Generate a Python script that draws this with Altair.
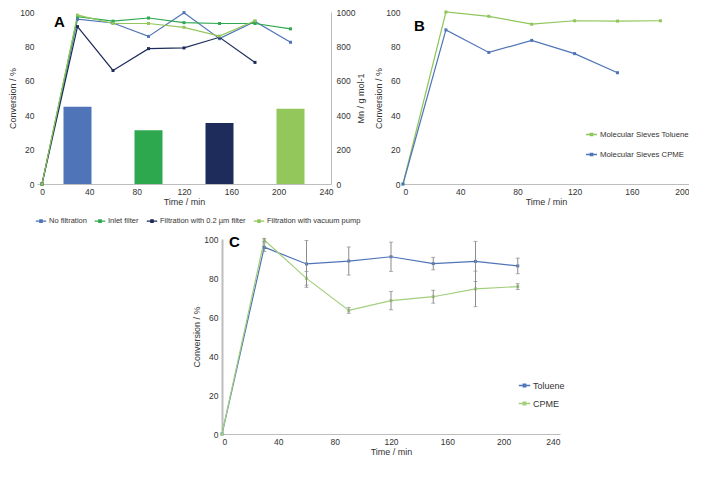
import altair as alt
import pandas as pd

FONT = "Liberation Sans"
TXT = "#333333"

# ---------------- Panel A data ----------------
a_series = ["No filtration", "Inlet filter", "Filtration with 0.2 µm filter", "Filtration with vacuum pump"]
a_colors = ["#4f74b8", "#2ea84f", "#1d2c5b", "#93c65b"]
a_time_full = [0, 30, 60, 90, 120, 150, 180, 210]
a_time_short = [0, 30, 60, 90, 120, 150, 180]
a_no = [0, 95.8, 93.6, 85.8, 99.6, 84.5, 94.5, 82.4]
a_inlet = [0, 97.3, 94.7, 96.5, 93.8, 93.3, 93.3, 90.2]
a_02 = [0, 91.5, 66.0, 78.7, 79.1, 85.3, 70.7]
a_vac = [0, 98.2, 93.3, 93.3, 91.1, 86.0, 94.9]
bar_time = [30, 90, 150, 210]
bar_mn = [449, 313, 355, 438]

# ---------------- Panel B data ----------------
b_series = ["Molecular Sieves Toluene", "Molecular Sieves CPME"]
b_colors = ["#8fc65a", "#4f74b8"]
b_time_tol = [0, 30, 60, 90, 120, 150, 180]
b_tol = [0, 100, 97.5, 92.9, 94.9, 94.7, 94.9]
b_time_cpme = [0, 30, 60, 90, 120, 150]
b_cpme = [0, 89.6, 76.5, 83.5, 75.8, 64.7]

# ---------------- Panel C data ----------------
c_series = ["Toluene", "CPME"]
c_colors = ["#4f74b8", "#a2cf7c"]
c_time = [0, 30, 60, 90, 120, 150, 180, 210]
c_tol = [0, 95.8, 87.2, 88.7, 90.9, 87.4, 88.5, 86.2]
c_tol_err = [0, 2.2, 12.0, 7.2, 7.5, 3.2, 10.3, 4.0]
c_cpme = [0, 99.5, 79.8, 63.4, 68.4, 70.4, 74.4, 75.6]
c_cpme_err = [0, 0.8, 3.5, 1.5, 4.7, 3.3, 9.1, 1.5]


def long_df(pairs):
    rows = []
    for name, ts, vs in pairs:
        for i, (t, v) in enumerate(zip(ts, vs)):
            rows.append({"time": t, "conv": v, "series": name, "idx": i})
    return pd.DataFrame(rows)


LEG_PATH = "M-1,0L1,0M-0.22,-0.22L0.22,-0.22L0.22,0.22L-0.22,0.22Z"
POINT = alt.OverlayMarkDef(shape="square", size=9, filled=True)


def letter(ch, x, y):
    return alt.Chart(pd.DataFrame({"t": [ch]})).mark_text(
        font=FONT, fontSize=15, fontWeight="bold", color="black", align="left", baseline="middle"
    ).encode(text="t:N", x=alt.value(x), y=alt.value(y))


def xaxis(vals, title):
    return alt.Axis(values=vals, title=title, grid=False, ticks=False, domainColor="#bdbdbd",
                    labelPadding=3, titlePadding=2, format="d")


def yaxis(vals, title, orient="left", domain=False, labelPadding=3, **kw):
    return alt.Axis(values=vals, title=title, grid=False, ticks=False, orient=orient, domain=domain,
                    domainColor="#bdbdbd", labelPadding=labelPadding, titlePadding=2, format="d", **kw)


# ---------------- Panel A ----------------
dfA = long_df([(a_series[0], a_time_full, a_no), (a_series[1], a_time_full, a_inlet),
               (a_series[2], a_time_short, a_02), (a_series[3], a_time_short, a_vac)])
dfBar = pd.DataFrame({"time": bar_time, "mn": bar_mn, "bseries": a_series})

xA = alt.X("time:Q", scale=alt.Scale(domain=[0, 240], nice=False),
           axis=xaxis([0, 40, 80, 120, 160, 200, 240], "Time / min"))

barsA = alt.Chart(dfBar).mark_bar(size=28).encode(
    x=xA,
    y=alt.Y("mn:Q", scale=alt.Scale(domain=[0, 1000], nice=False),
            axis=yaxis([0, 200, 400, 600, 800, 1000], "Mn / g mol-1", orient="right", domain=True,
                       titleAngle=270, titleBaseline="top", labelPadding=5)),
    color=alt.Color("bseries:N", scale=alt.Scale(domain=a_series, range=a_colors), legend=None),
)
linesA = alt.Chart(dfA).mark_line(strokeWidth=1.2, point=POINT).encode(
    x=xA,
    y=alt.Y("conv:Q", scale=alt.Scale(domain=[0, 100], nice=False),
            axis=yaxis([0, 20, 40, 60, 80, 100], "Conversion / %")),
    color=alt.Color("series:N", scale=alt.Scale(domain=a_series, range=a_colors), sort=a_series,
                    legend=alt.Legend(title=None, orient="none", legendX=-2, legendY=203,
                                      direction="horizontal", columns=4,
                                      symbolType=LEG_PATH, symbolSize=110, symbolStrokeWidth=1.3,
                                      labelFontSize=7.5, columnPadding=5, labelOffset=2)),
    order="idx:Q",
)
panelA = alt.layer(barsA, linesA, letter("A", 17, 10)).resolve_scale(
    y="independent", color="independent").properties(width=294, height=172)

# ---------------- Panel B ----------------
dfB = long_df([(b_series[0], b_time_tol, b_tol), (b_series[1], b_time_cpme, b_cpme)])
linesB = alt.Chart(dfB).mark_line(strokeWidth=1.2, point=POINT).encode(
    x=alt.X("time:Q", scale=alt.Scale(domain=[0, 200], nice=False),
            axis=xaxis([0, 40, 80, 120, 160, 200], "Time / min")),
    y=alt.Y("conv:Q", scale=alt.Scale(domain=[0, 100], nice=False),
            axis=yaxis([0, 20, 40, 60, 80, 100], "Conversion / %")),
    color=alt.Color("series:N", scale=alt.Scale(domain=b_series, range=b_colors), sort=b_series,
                    legend=alt.Legend(title=None, orient="none", legendX=182, legendY=116,
                                      symbolType=LEG_PATH, symbolSize=120, symbolStrokeWidth=1.3,
                                      labelFontSize=7.8, rowPadding=9, labelOffset=2)),
    order="idx:Q",
)
panelB = alt.layer(linesB, letter("B", 11, 14)).properties(width=286, height=172)

# ---------------- Panel C ----------------
dfC = long_df([(c_series[0], c_time, c_tol), (c_series[1], c_time, c_cpme)])
err_rows = []
for name, vals, errs in [(c_series[0], c_tol, c_tol_err), (c_series[1], c_cpme, c_cpme_err)]:
    for t, v, e in zip(c_time, vals, errs):
        if t > 0:
            err_rows.append({"time": t, "lo": v - e, "hi": v + e, "series": name})
dfErr = pd.DataFrame(err_rows)

xC = alt.X("time:Q", scale=alt.Scale(domain=[0, 240], nice=False),
           axis=xaxis([0, 40, 80, 120, 160, 200, 240], "Time / min"))
axC = alt.Axis(values=[0, 20, 40, 60, 80, 100], title="Conversion / %", grid=False, ticks=False,
               domainColor="#bdbdbd", domainWidth=2, labelPadding=4, titlePadding=2, format="d")
scC = alt.Scale(domain=[0, 100], nice=False)

linesC = alt.Chart(dfC).mark_line(strokeWidth=1.2, point=POINT).encode(
    x=xC, y=alt.Y("conv:Q", scale=scC, axis=axC),
    color=alt.Color("series:N", scale=alt.Scale(domain=c_series, range=c_colors), sort=c_series,
                    legend=alt.Legend(title=None, orient="none", legendX=296, legendY=140,
                                      symbolType=LEG_PATH, symbolSize=130, symbolStrokeWidth=1.3,
                                      labelFontSize=9, rowPadding=6, labelOffset=2)),
    order="idx:Q",
)
errRule = alt.Chart(dfErr).mark_rule(color="#8c8c8c", strokeWidth=1).encode(
    x=xC, y=alt.Y("lo:Q", scale=scC, axis=axC), y2="hi:Q")
errLo = alt.Chart(dfErr).mark_tick(color="#8c8c8c", size=4, thickness=1, orient="horizontal").encode(
    x=xC, y=alt.Y("lo:Q", scale=scC, axis=axC))
errHi = alt.Chart(dfErr).mark_tick(color="#8c8c8c", size=4, thickness=1, orient="horizontal").encode(
    x=xC, y=alt.Y("hi:Q", scale=scC, axis=axC))
panelC = alt.layer(linesC, errRule, errLo, errHi, letter("C", 7, 3)).properties(width=338, height=195)

spacer = alt.Chart(pd.DataFrame({"a": [0]})).mark_point(opacity=0).encode(
    x=alt.X("a:Q", axis=None), y=alt.Y("a:Q", axis=None)).properties(width=145, height=1)

top = alt.hconcat(panelA, panelB, spacing=8).resolve_scale(color="independent").resolve_legend(
    color="independent")
bottom = alt.hconcat(spacer, panelC, spacing=10).resolve_scale(color="independent").resolve_legend(
    color="independent")

chart = alt.vconcat(top, bottom, spacing=10).resolve_scale(color="independent").resolve_legend(
    color="independent").properties(padding=0).configure_view(
    stroke=None).configure_axis(
    labelFont=FONT, titleFont=FONT, labelFontSize=8.5, titleFontSize=9, labelColor=TXT, titleColor=TXT,
    titleFontWeight="normal").configure_legend(labelFont=FONT, labelColor=TXT)

chart.save("out.html", embed_options={"renderer": "svg", "actions": False})
